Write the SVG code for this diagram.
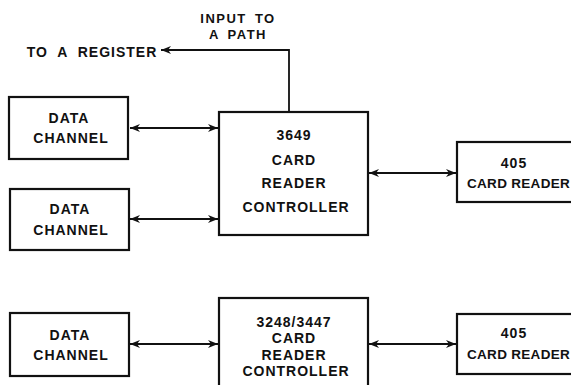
<svg xmlns="http://www.w3.org/2000/svg" width="571" height="385" viewBox="0 0 571 385">
<defs>
<style>
.box{fill:#fff;stroke:#111;stroke-width:2.2}
.ln{fill:none;stroke:#111;stroke-width:1.8}
text{font-family:"Liberation Sans",Arial,sans-serif;font-weight:bold;font-size:14px;letter-spacing:1px;fill:#111;text-anchor:middle}
.cr{font-size:13.5px;letter-spacing:0.3px;text-anchor:start}
.sm{font-size:13px;letter-spacing:1.5px}
</style>
<marker id="ah" viewBox="0 0 10 8" refX="10" refY="4" markerWidth="10" markerHeight="8" markerUnits="userSpaceOnUse" orient="auto-start-reverse">
<path d="M0,0 L10,4 L0,8 L3,4 z" fill="#111"/>
</marker>
</defs>
<rect width="571" height="385" fill="#fff"/>
<g id="connectors">
<line class="ln" x1="130" y1="128" x2="218" y2="128" marker-start="url(#ah)" marker-end="url(#ah)"/>
<line class="ln" x1="130" y1="219" x2="218" y2="219" marker-start="url(#ah)" marker-end="url(#ah)"/>
<line class="ln" x1="369" y1="173" x2="456" y2="173" marker-start="url(#ah)" marker-end="url(#ah)"/>
<line class="ln" x1="130" y1="344" x2="218" y2="344" marker-start="url(#ah)" marker-end="url(#ah)"/>
<line class="ln" x1="369" y1="344" x2="456" y2="344" marker-start="url(#ah)" marker-end="url(#ah)"/>
<polyline class="ln" points="289,112 289,50 161,50" marker-end="url(#ah)"/>
</g>
<g id="label-input">
<text class="sm" x="238" y="23" word-spacing="3">INPUT TO</text>
<text class="sm" x="238" y="39" word-spacing="3">A PATH</text>
</g>
<g id="label-register">
<text x="92" y="57" word-spacing="5">TO A REGISTER</text>
</g>
<g id="dc1">
<rect class="box" x="9" y="97" width="119" height="62"/>
<text x="69" y="123">DATA</text>
<text x="71" y="143">CHANNEL</text>
</g>
<g id="dc2">
<rect class="box" x="10" y="189" width="119" height="61"/>
<text x="70" y="214">DATA</text>
<text x="71" y="235">CHANNEL</text>
</g>
<g id="ctrl3649">
<rect class="box" x="219" y="112" width="149" height="123"/>
<text x="294" y="140">3649</text>
<text x="294" y="165">CARD</text>
<text x="294" y="188">READER</text>
<text x="296" y="212">CONTROLLER</text>
</g>
<g id="cr1">
<rect class="box" x="457" y="142" width="130" height="60"/>
<text x="514" y="168">405</text>
<text class="cr" x="467" y="188">CARD READER</text>
</g>
<g id="dc3">
<rect class="box" x="10" y="313" width="119" height="63"/>
<text x="70" y="340">DATA</text>
<text x="71" y="360">CHANNEL</text>
</g>
<g id="ctrl3248">
<rect class="box" x="219" y="298" width="149" height="100"/>
<text x="294" y="327">3248/3447</text>
<text x="294" y="343">CARD</text>
<text x="294" y="360">READER</text>
<text x="296" y="376">CONTROLLER</text>
</g>
<g id="cr2">
<rect class="box" x="457" y="314" width="130" height="60"/>
<text x="514" y="338">405</text>
<text class="cr" x="467" y="359">CARD READER</text>
</g>
</svg>
